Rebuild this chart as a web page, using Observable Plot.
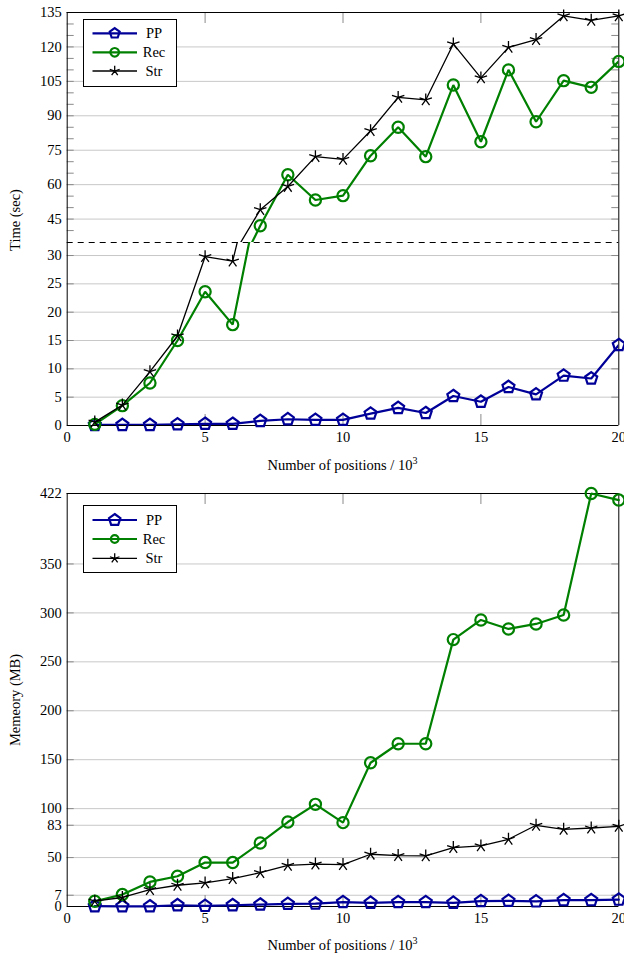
<!DOCTYPE html>
<html><head><meta charset="utf-8">
<script src="https://cdn.jsdelivr.net/npm/d3@7"></script>
<script src="https://cdn.jsdelivr.net/npm/@observablehq/plot@0.6"></script>
<style>
body{margin:0;background:#fff;}
#wrap{position:relative;width:624px;height:957px;overflow:hidden;font-family:"Liberation Serif",serif;color:#000;}
#wrap svg.chart{position:absolute;left:0;}
#wrap svg text, #wrap svg g{font-family:"Liberation Serif",serif !important;}
#wrap svg text{font-size:14.5px;}
.ylab{position:absolute;transform:translate(-50%,-50%) rotate(-90deg);white-space:nowrap;font-size:14.5px;}
.xlab{position:absolute;transform:translate(-50%,-50%);white-space:nowrap;font-size:14.5px;}
.xlab sup{font-size:10px;line-height:0;}
</style></head>
<body><div id="wrap"></div>
<script>
// ---- data ----
const positions = [1,2,3,4,5,6,7,8,9,10,11,12,13,14,15,16,17,18,19,20];
const seriesNames = ["PP","Rec","Str"];
const timePP  = [0.1,0.1,0.1,0.2,0.3,0.3,0.8,1.1,1.0,1.0,2.1,3.1,2.2,5.2,4.2,6.8,5.5,8.8,8.3,14.2];
const timeRec = [0.2,3.5,7.5,15.0,23.6,17.8,42.1,64.3,53.3,55.2,72.6,85.0,72.2,103.4,78.7,110.0,87.4,105.3,102.4,113.7];
const timeStr = [0.6,3.6,9.5,15.8,29.8,29.0,49.1,59.2,72.2,71.0,83.5,98.0,96.9,121.3,106.5,119.8,123.2,133.5,131.6,133.5];
const memPP  = [0.3,0.2,0.2,1.3,0.6,1.3,2.0,2.7,3.0,4.5,3.8,4.5,4.5,3.8,5.5,5.8,5.2,6.5,6.5,7.0];
const memRec = [5.4,12.2,25.1,30.9,44.9,44.9,64.9,86.3,104.4,85.7,146.9,166.3,166.3,272.7,292.8,283.6,288.7,297.9,422.0,415.3];
const memStr = [5.4,9.2,17.3,21.7,24.1,28.5,34.6,42.1,43.3,42.8,53.4,52.0,51.7,60.2,61.9,68.7,83.0,78.9,80.2,81.9];
const xTicks = [0,5,10,15,20];
const xInnerTicks = [5,10,15];
const timeTicksLow = [0,5,10,15,20,25,30];
const timeTicksHigh = [45,60,75,90,105,120,135];
const timeMinorHigh = [40,50,55,65,70,80,85,95,100,110,115,125,130];
// memory axis: tick positions as drawn in the reference, and their labels
const memTicks = [0,11.5,50,83,100,150,200,250,300,350,422];
const memTickLabels = ["0","7","50","83","100","150","200","250","300","350","422"];
const timeLabel = "Time (sec)";
const memLabel = "Memeory (MB)";

// ---- styles ----
const color = {PP:"#000099", Rec:"#008000", Str:"#000000"};
const lw = {PP:2.2, Rec:2.2, Str:1.3};
const pentagon = {draw(ctx, size){ const r=Math.sqrt(size/Math.PI); for(let i=0;i<5;i++){const a=-Math.PI/2+i*2*Math.PI/5; const x=r*Math.cos(a), y=r*Math.sin(a); if(i) ctx.lineTo(x,y); else ctx.moveTo(x,y);} ctx.closePath(); }};
const circle = {draw(ctx, size){ const r=Math.sqrt(size/Math.PI); ctx.moveTo(r,0); ctx.arc(0,0,r,0,2*Math.PI); }};
const star5 = {draw(ctx, size){ const r=Math.sqrt(size/Math.PI); for(let i=0;i<5;i++){const a=-Math.PI/2+i*2*Math.PI/5; ctx.moveTo(0,0); ctx.lineTo(r*Math.cos(a), r*Math.sin(a));} }};
const sym = {PP:pentagon, Rec:circle, Str:star5};
const rad = {PP:6.3, Rec:5.6, Str:6.5};

const W = 624, ML = 66.7, MR = 5.7, PW = W - ML - MR;
const gridColor = "#c8c8c8", tickColor = "#8a8a8a";
const font = {background:"transparent", overflow:"visible", fontFamily:"'Liberation Serif', serif", fontSize:"14.5px", color:"#000"};

const rows = (vals, name) => positions.map((x,i)=>({x, v: vals[i], s: name}));
function seriesMarks(name, vals, clip, filter){
  const data = rows(vals, name);
  return [
    Plot.line(data, {x:"x", y:"v", stroke:color[name], strokeWidth:lw[name], strokeLinejoin:"miter", clip}),
    Plot.dot(data, {x:"x", y:"v", symbol:sym[name], r:rad[name], stroke:color[name], strokeWidth:lw[name], fill:"none", filter})
  ];
}

const wrap = document.getElementById("wrap");
function place(svg, top){ svg.classList.add("chart"); svg.style.top = top + "px"; wrap.appendChild(svg); }

// ---- top chart: upper part (broken axis) ----
const upLo = 34.8, upH = 242, upMT = 12;
const upper = Plot.plot({
  width: W, height: upH, marginLeft: ML, marginRight: MR, marginTop: upMT, marginBottom: 0,
  style: font,
  x: {domain:[0,20], axis:null},
  y: {domain:[upLo,135], ticks: timeTicksHigh, tickSize:0, tickPadding:5.5, label:null},
  marks: [
    Plot.ruleY(timeTicksHigh.filter(t=>t<135), {stroke:gridColor, strokeWidth:1}),
    Plot.ruleY(timeTicksHigh.concat(timeMinorHigh), {stroke:tickColor, insetRight: PW-7}),
    Plot.ruleY(timeTicksHigh.concat(timeMinorHigh), {stroke:tickColor, insetLeft: PW-7}),
    Plot.ruleX(xInnerTicks, {stroke:tickColor, insetBottom: (upH-upMT)-11}),
    Plot.ruleX([0,20], {stroke:"#000", strokeWidth:1}),
    Plot.ruleY([135], {stroke:"#000", strokeWidth:1}),
    Plot.ruleY([upLo], {stroke:"#000", strokeWidth:1, strokeDasharray:"6,5"}),
    ...seriesNames.flatMap(n => seriesMarks(n, {PP:timePP, Rec:timeRec, Str:timeStr}[n], true, d => d.v >= upLo))
  ]
});
place(upper, 0);

// ---- top chart: lower part ----
const loHi = 32.3, loH = 238, loMB = 55;
const lower = Plot.plot({
  width: W, height: loH, marginLeft: ML, marginRight: MR, marginTop: 0, marginBottom: loMB,
  style: font,
  x: {domain:[0,20], ticks: xTicks, tickSize:0, tickPadding:6, label:null},
  y: {domain:[0,loHi], ticks: timeTicksLow, tickSize:0, tickPadding:5.5, label:null},
  marks: [
    Plot.ruleY(timeTicksLow.filter(t=>t>0), {stroke:gridColor, strokeWidth:1}),
    Plot.ruleY(timeTicksLow, {stroke:tickColor, insetRight: PW-7}),
    Plot.ruleY(timeTicksLow, {stroke:tickColor, insetLeft: PW-7}),
    Plot.ruleX(xInnerTicks, {stroke:tickColor, insetTop: (loH-loMB)-11}),
    Plot.ruleX([0,20], {stroke:"#000", strokeWidth:1}),
    Plot.ruleY([0], {stroke:"#000", strokeWidth:1}),
    ...seriesNames.flatMap(n => seriesMarks(n, {PP:timePP, Rec:timeRec, Str:timeStr}[n], true, d => d.v <= loHi))
  ]
});
place(lower, 242);

// ---- bottom chart ----
const bH = 476, bMT = 12, bMB = 51;
const bottom = Plot.plot({
  width: W, height: bH, marginLeft: ML, marginRight: MR, marginTop: bMT, marginBottom: bMB,
  style: font,
  x: {domain:[0,20], ticks: xTicks, tickSize:0, tickPadding:6, label:null},
  y: {domain:[0,422], ticks: memTicks, tickFormat: (d) => memTickLabels[memTicks.indexOf(d)], tickSize:0, tickPadding:5.5, label:null},
  marks: [
    Plot.ruleY(memTicks.filter(t=>t>0 && t<422), {stroke:gridColor, strokeWidth:1}),
    Plot.ruleY(memTicks, {stroke:tickColor, insetRight: PW-7}),
    Plot.ruleY(memTicks, {stroke:tickColor, insetLeft: PW-7}),
    Plot.ruleX(xInnerTicks, {stroke:tickColor, insetTop: (bH-bMT-bMB)-11}),
    Plot.ruleX(xInnerTicks, {stroke:tickColor, insetBottom: (bH-bMT-bMB)-11}),
    Plot.ruleX([0,20], {stroke:"#000", strokeWidth:1}),
    Plot.ruleY([0,422], {stroke:"#000", strokeWidth:1}),
    ...seriesNames.flatMap(n => seriesMarks(n, {PP:memPP, Rec:memRec, Str:memStr}[n], false, null))
  ]
});
place(bottom, 481);

// ---- axis titles ----
function addDiv(cls, html, x, y){ const d=document.createElement("div"); d.className=cls; d.innerHTML=html; d.style.left=x+"px"; d.style.top=y+"px"; wrap.appendChild(d); }
addDiv("ylab", timeLabel, 15, 220);
addDiv("ylab", memLabel, 15, 700);
addDiv("xlab", "Number of positions / 10<sup>3</sup>", 342.5, 465);
addDiv("xlab", "Number of positions / 10<sup>3</sup>", 342.5, 945);

// ---- legends ----
function legend(top, rowsY, markR){
  const w = 94, h = rowsY[3];
  const svg = d3.create("svg").attr("width", w).attr("height", h)
    .style("position","absolute").style("left","83px").style("top", top+"px").style("overflow","visible");
  svg.append("rect").attr("x",0.5).attr("y",0.5).attr("width",w-1).attr("height",h-1).attr("fill","#fff").attr("stroke","#000").attr("stroke-width",1);
  seriesNames.forEach((n,i)=>{
    const y = rowsY[i];
    svg.append("line").attr("x1",9.5).attr("x2",54).attr("y1",y).attr("y2",y).attr("stroke",color[n]).attr("stroke-width",lw[n]);
    const p = d3.path(); sym[n].draw(p, Math.PI*markR[n]*markR[n]);
    svg.append("path").attr("d", p.toString()).attr("transform",`translate(31.7,${y})`).attr("fill","none").attr("stroke",color[n]).attr("stroke-width",lw[n]);
    svg.append("text").attr("x",71).attr("y",y).attr("dy","0.35em").attr("text-anchor","middle")
      .attr("font-family","'Liberation Serif', serif").attr("font-size","14.5px").text(n);
  });
  wrap.appendChild(svg.node());
}
legend(19, [14.3, 33.3, 52, 68], {PP:5.2, Rec:4.3, Str:5.2});
legend(505, [15, 34, 53.3, 68], {PP:6, Rec:3.8, Str:5});
</script>
</body></html>
